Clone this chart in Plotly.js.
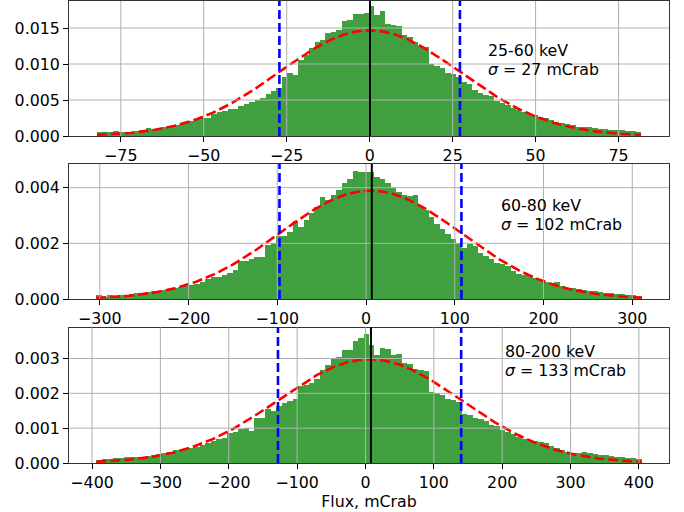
<!DOCTYPE html>
<html><head><meta charset="utf-8">
<script src="https://cdn.plot.ly/plotly-3.0.1.min.js"></script>
<style>html,body{margin:0;padding:0;background:#fff}#chart{width:684px;height:512px}</style>
</head><body><div id="chart"></div><script>
// ---- data ----
const bandLabels = ['25-60 keV', '60-80 keV', '80-200 keV'];
const sigmaText = [27, 102, 133];
const histLo = [-82.2, -304, -393.8];
const histHi = [81.8, 310.6, 404.1];

const dens1 = [0.0005,0.0005,0.0006,0.0007,0.0005,0.0006,0.0006,0.0007,0.0008,0.0011,
0.0010,0.0011,0.0012,0.0013,0.0015,0.0016,0.0019,0.0021,0.0023,0.0025,
0.0025,0.0031,0.0034,0.0035,0.0037,0.0037,0.0041,0.0045,0.0047,0.0050,
0.0053,0.0058,0.0063,0.0067,0.0082,0.0087,0.0085,0.0106,0.0113,0.0122,
0.0130,0.0134,0.0143,0.0145,0.0147,0.0160,0.0161,0.0169,0.0170,0.0171,
0.0180,0.0168,0.0173,0.0155,0.0154,0.0153,0.0140,0.0137,0.0130,0.0125,
0.0124,0.0100,0.0097,0.0095,0.0088,0.0086,0.0082,0.0075,0.0072,0.0064,
0.0060,0.0057,0.0055,0.0049,0.0046,0.0043,0.0039,0.0036,0.0034,0.0031,
0.0029,0.0026,0.0025,0.0022,0.0020,0.0018,0.0017,0.0015,0.0013,0.0013,
0.0012,0.0011,0.0010,0.0010,0.0009,0.0008,0.0008,0.0007,0.0007,0.0006];

const dens2 = [0.00014,0.00008,0.00013,0.00012,0.00014,0.00015,0.00018,0.00020,0.00022,0.00025,
0.00027,0.00029,0.00031,0.00034,0.00038,0.00044,0.00045,0.00050,0.00055,0.00060,
0.00072,0.00078,0.00080,0.00088,0.00095,0.00105,0.00135,0.00138,0.00145,0.00150,
0.00150,0.00195,0.00200,0.00225,0.00228,0.00240,0.00282,0.00258,0.00285,0.00310,
0.00330,0.00365,0.00355,0.00375,0.00390,0.00415,0.00430,0.00460,0.00455,0.00458,
0.00456,0.00440,0.00430,0.00418,0.00400,0.00385,0.00372,0.00370,0.00375,0.00335,
0.00320,0.00295,0.00270,0.00250,0.00235,0.00215,0.00200,0.00185,0.00198,0.00190,
0.00165,0.00155,0.00145,0.00128,0.00125,0.00118,0.00100,0.00090,0.00088,0.00085,
0.00075,0.00068,0.00060,0.00056,0.00062,0.00045,0.00040,0.00038,0.00035,0.00032,
0.00030,0.00027,0.00024,0.00022,0.00020,0.00018,0.00017,0.00015,0.00014,0.00012];

const dens3 = [0.00010,0.00011,0.00012,0.00013,0.00015,0.00016,0.00017,0.00016,0.00018,0.00020,
0.00023,0.00025,0.00029,0.00033,0.00036,0.00037,0.00041,0.00044,0.00047,0.00052,
0.00058,0.00062,0.00070,0.00073,0.00085,0.00090,0.00098,0.00100,0.00092,0.00130,
0.00130,0.00155,0.00150,0.00165,0.00172,0.00178,0.00185,0.00220,0.00225,0.00230,
0.00240,0.00268,0.00280,0.00300,0.00303,0.00325,0.00325,0.00350,0.00360,0.00370,
0.00340,0.00310,0.00330,0.00328,0.00310,0.00312,0.00288,0.00285,0.00270,0.00268,
0.00263,0.00205,0.00200,0.00195,0.00185,0.00182,0.00175,0.00140,0.00138,0.00130,
0.00125,0.00120,0.00108,0.00105,0.00095,0.00088,0.00082,0.00075,0.00070,0.00066,
0.00062,0.00060,0.00056,0.00050,0.00042,0.00038,0.00033,0.00030,0.00028,0.00032,
0.00028,0.00025,0.00022,0.00024,0.00020,0.00018,0.00016,0.00015,0.00014,0.00012];

const fitMu = [0, 5, 6];
const fitSigma = [27.2, 102.5, 134];
const centerLine = [0.1, 6.5, 8];

const xTicks1 = [-75, -50, -25, 0, 25, 50, 75];
const xTicks2 = [-300, -200, -100, 0, 100, 200, 300];
const xTicks3 = [-400, -300, -200, -100, 0, 100, 200, 300, 400];
const yTicks1 = [0, 0.005, 0.010, 0.015];
const yTicks2 = [0, 0.002, 0.004];
const yTicks3 = [0, 0.001, 0.002, 0.003];
const xTitle = 'Flux, mCrab';

// ---- layout/styling ----
const W = 684, H = 512, ML = 69, MR = 15;
const FS = 15.8;
const dens = [dens1, dens2, dens3];
const xTicks = [xTicks1, xTicks2, xTicks3];
const yTicks = [yTicks1, yTicks2, yTicks3];
const xRanges = [[-90.6, 90.2], [-334.7, 341.4], [-433.7, 444]];
const yRanges = [[0, 0.01875], [0, 0.00485], [0, 0.00389]];
const panelPx = [[1, 136], [164, 299], [327.5, 463]]; // top,bottom pixel
const textPx = [[486, 50.7, 69.3], [499.3, 205.7, 224], [502.7, 351.7, 370]];
const FONT = 'DejaVu Sans, sans-serif';

const traces = [];
const shapes = [];
const annotations = [];
const layout = {
  width: W, height: H, margin: {l: ML, r: MR, t: 0, b: 0},
  paper_bgcolor: '#fff', plot_bgcolor: '#fff', showlegend: false,
  bargap: 0, font: {family: FONT, size: FS, color: '#000'},
  shapes: shapes, annotations: annotations
};

for (let p = 0; p < 3; p++) {
  const sx = p === 0 ? '' : String(p + 1);
  const xa = 'x' + sx, ya = 'y' + sx;
  const n = dens[p].length;
  const bw = (histHi[p] - histLo[p]) / n;
  const centers = dens[p].map((_, i) => histLo[p] + (i + 0.5) * bw);
  traces.push({type: 'bar', x: centers, y: dens[p], width: bw, xaxis: xa, yaxis: ya,
    marker: {color: 'rgba(0,128,0,0.75)', line: {width: 0}}, hoverinfo: 'skip'});
  // Gaussian fit curve (model from mu, sigma)
  const nx = 300, cx = [], cy = [];
  const amp = 1 / (fitSigma[p] * Math.sqrt(2 * Math.PI));
  for (let k = 0; k <= nx; k++) {
    const xv = histLo[p] + (histHi[p] - histLo[p]) * k / nx;
    cx.push(xv);
    cy.push(amp * Math.exp(-0.5 * Math.pow((xv - fitMu[p]) / fitSigma[p], 2)));
  }
  traces.push({type: 'scatter', mode: 'lines', x: cx, y: cy, xaxis: xa, yaxis: ya,
    line: {color: '#ff0000', width: 2.6, dash: '10px,4px'}, hoverinfo: 'skip'});

  const [top, bot] = panelPx[p];
  const dom = [(H - bot) / H, (H - top) / H];
  const axisCommon = {showgrid: false, zeroline: false, showline: true, mirror: true,
    linecolor: '#333', linewidth: 1, ticks: 'outside', ticklen: 5, tickwidth: 1,
    tickcolor: '#000', tickfont: {family: FONT, size: FS, color: '#000'}};
  layout['xaxis' + sx] = Object.assign({}, axisCommon, {
    anchor: ya, domain: [0, 1], range: xRanges[p], tickmode: 'array',
    tickvals: xTicks[p], ticktext: xTicks[p].map(v => (v < 0 ? '\u2212' : '') + Math.abs(v))
  });
  layout['yaxis' + sx] = Object.assign({}, axisCommon, {
    anchor: xa, domain: dom, range: yRanges[p], tickmode: 'array',
    tickvals: yTicks[p], ticktext: yTicks[p].map(v => v.toFixed(3))
  });
  if (p === 2) {
    layout['xaxis' + sx].title = {text: xTitle, font: {family: FONT, size: FS, color: '#000'}, standoff: 3};
  }
  // grid lines above bars (as in reference)
  xTicks[p].forEach(v => shapes.push({type: 'line', layer: 'above', xref: xa, yref: ya + ' domain',
    x0: v, x1: v, y0: 0, y1: 1, line: {color: '#b0b0b0', width: 1}}));
  yTicks[p].filter(v => v > 0).forEach(v => shapes.push({type: 'line', layer: 'above',
    xref: xa + ' domain', yref: ya, x0: 0, x1: 1, y0: v, y1: v, line: {color: '#b0b0b0', width: 1}}));
  // sigma lines
  [fitMu[p] - fitSigma[p], fitMu[p] + fitSigma[p]].forEach(v => shapes.push({type: 'line', layer: 'above',
    xref: xa, yref: ya + ' domain', x0: v, x1: v, y0: 0, y1: 1,
    line: {color: '#0000ff', width: 2.6, dash: '9px,4px'}}));
  shapes.push({type: 'line', layer: 'above', xref: xa, yref: ya + ' domain',
    x0: centerLine[p], x1: centerLine[p], y0: 0, y1: 1, line: {color: '#000', width: 2}});
  const lines = [bandLabels[p], '<i>σ</i> = ' + sigmaText[p] + ' mCrab'];
  lines.forEach((t, j) => annotations.push({xref: 'paper', yref: 'paper',
    x: (textPx[p][0] - ML) / (W - ML - MR), y: (H - textPx[p][1 + j]) / H,
    xanchor: 'left', yanchor: 'middle', align: 'left', showarrow: false, text: t,
    font: {family: FONT, size: FS, color: '#000'}}));
}

Plotly.newPlot('chart', traces, layout, {staticPlot: true, displayModeBar: false});
</script></body></html>
